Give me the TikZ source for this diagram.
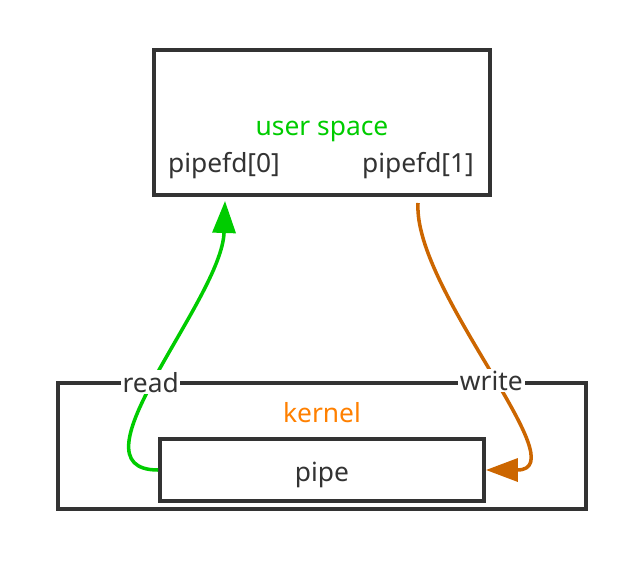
\documentclass[tikz,border=0pt]{standalone}
\usepackage{fontspec}
\setmainfont{Noto Sans}
\usetikzlibrary{arrows.meta,positioning}

\definecolor{boxgray}{HTML}{333333}
\definecolor{rdgreen}{RGB}{0,204,0}
\definecolor{kerorange}{RGB}{255,128,0}
\definecolor{wrorange}{RGB}{204,102,0}

\tikzset{
  box/.style={draw=boxgray,line width=2.2pt,inner sep=0pt},
  txt/.style={text=boxgray,font=\fontsize{15}{18}\selectfont},
  lbl/.style={txt,fill=white,inner sep=1pt}
}

\begin{document}
\begin{tikzpicture}[x=0.02cm,y=-0.02cm,>={Triangle[length=0.64cm,width=0.46cm]},line width=2pt]
                \useasboundingbox (0,0) rectangle (644,560);

                \node[box,minimum width=10.56cm,minimum height=2.52cm] (kernel) at (322,446) {};
                \node[box,minimum width=6.48cm,minimum height=1.24cm] (pipe) at (322,470) {};
                \node[box,minimum width=6.72cm,minimum height=2.9cm] (user) at (322,122.5) {};

                \node[txt,text=rdgreen] (uspace) at (322,131) {user space};
                \node[txt] (fd0) at (224,166) {pipefd[0]};
                \node[txt] (fd1) at (418,166) {pipefd[1]};
                \node[txt,text=kerorange] (klabel) at (322,413) {kernel};
                \node[txt] (plabel) at (322,475) {pipe};

                \coordinate (rdtip) at (225,201);
                \coordinate (wrstart) at (418,203);

                \draw[->,rdgreen] (pipe.west) .. controls (65,470) and (222,300) .. node[lbl,pos=0.47] {read} (rdtip);
                \draw[->,wrorange] (wrstart) .. controls (413,290) and (580,470) .. node[lbl,pos=0.535] {write} (pipe.east);

            \end{tikzpicture}
\end{document}
